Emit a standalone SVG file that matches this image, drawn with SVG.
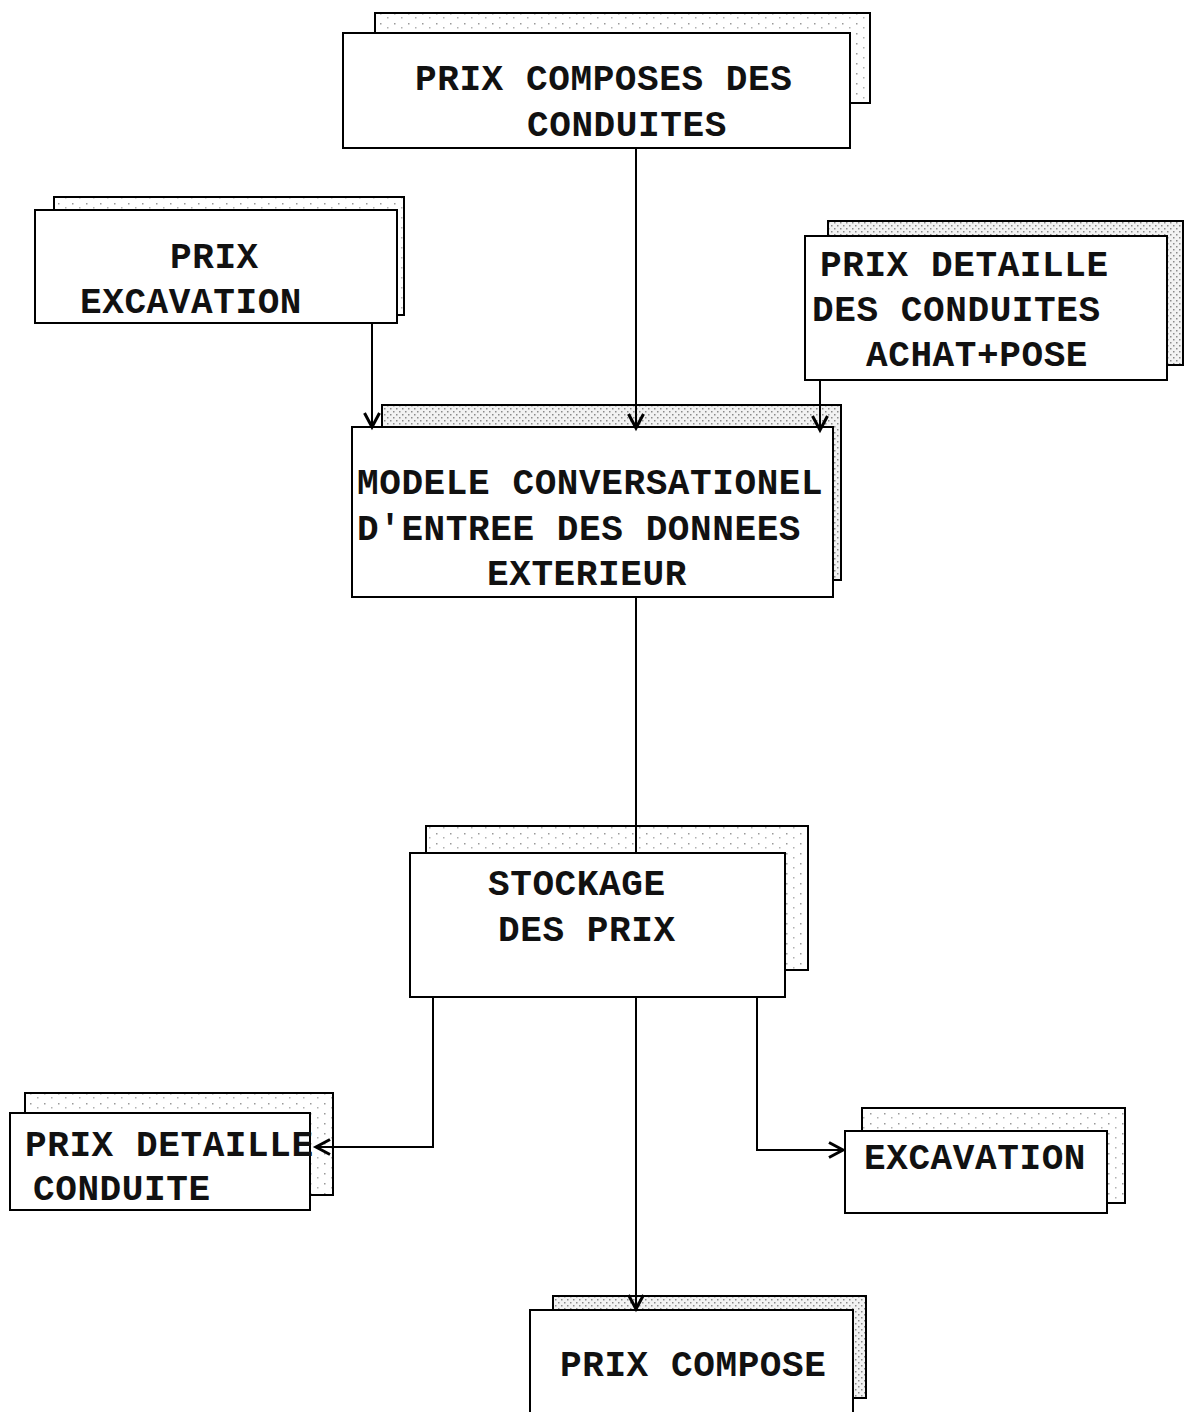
<svg xmlns="http://www.w3.org/2000/svg" width="1187" height="1412" viewBox="0 0 1187 1412">
  <style>
    .front { fill: #ffffff; stroke: #000000; stroke-width: 2; }
    .back { stroke: #000000; stroke-width: 2; }
    .dense { fill: url(#stippleDense); }
    .sparse { fill: url(#stippleSparse); }
    .label { font-family: "Liberation Mono", "Courier New", monospace; font-weight: bold; font-size: 36px; letter-spacing: 0.6px; fill: #111111; }
    .wire { fill: none; stroke: #000000; stroke-width: 2; }
  </style>
  <defs>
    <pattern id="stippleDense" width="6" height="6" patternUnits="userSpaceOnUse">
      <rect width="6" height="6" fill="#f2f2f2"/>
      <rect x="0" y="0" width="1.5" height="1.5" fill="#8a8a8a"/>
      <rect x="3" y="3" width="1.5" height="1.5" fill="#8a8a8a"/>
    </pattern>
    <pattern id="stippleSparse" width="14" height="10" patternUnits="userSpaceOnUse">
      <rect width="14" height="10" fill="#ffffff"/>
      <rect x="2" y="3" width="1.5" height="1.5" fill="#9a9a9a"/>
      <rect x="9" y="7" width="1.5" height="1.5" fill="#b0b0b0"/>
    </pattern>
    <marker id="arrow" markerUnits="userSpaceOnUse" markerWidth="20" markerHeight="20" refX="15" refY="9" orient="auto">
      <path d="M1,1.5 L15,9 L1,16.5" fill="none" stroke="#000000" stroke-width="3"/>
    </marker>
  </defs>

  <!-- stacked record boxes -->
  <g id="prix-composes-conduites">
    <rect class="back sparse" x="375" y="13" width="495" height="90"/>
    <rect class="front" x="343" y="33" width="507" height="115"/>
    <text class="label" x="415" y="90">PRIX COMPOSES DES</text>
    <text class="label" x="527" y="136">CONDUITES</text>
  </g>

  <g id="prix-excavation">
    <rect class="back sparse" x="54" y="197" width="350" height="118"/>
    <rect class="front" x="35" y="210" width="362" height="113"/>
    <text class="label" x="170" y="268">PRIX</text>
    <text class="label" x="80" y="313">EXCAVATION</text>
  </g>

  <g id="prix-detaille-conduites">
    <rect class="back dense" x="828" y="221" width="355" height="144"/>
    <rect class="front" x="805" y="236" width="362" height="144"/>
    <text class="label" x="820" y="276">PRIX DETAILLE</text>
    <text class="label" x="812" y="321">DES CONDUITES</text>
    <text class="label" x="866" y="366">ACHAT+POSE</text>
  </g>

  <g id="modele-conversationel">
    <rect class="back dense" x="382" y="405" width="459" height="175"/>
    <rect class="front" x="352" y="427" width="481" height="170"/>
    <text class="label" x="357" y="494">MODELE CONVERSATIONEL</text>
    <text class="label" x="357" y="540">D'ENTREE DES DONNEES</text>
    <text class="label" x="487" y="585">EXTERIEUR</text>
  </g>

  <g id="stockage-prix">
    <rect class="back sparse" x="426" y="826" width="382" height="144"/>
    <rect class="front" x="410" y="853" width="375" height="144"/>
    <text class="label" x="488" y="895">STOCKAGE</text>
    <text class="label" x="498" y="941">DES PRIX</text>
  </g>

  <g id="prix-detaille-conduite">
    <rect class="back sparse" x="25" y="1093" width="308" height="102"/>
    <rect class="front" x="10" y="1113" width="300" height="97"/>
    <text class="label" x="25" y="1156">PRIX DETAILLE</text>
    <text class="label" x="33" y="1200">CONDUITE</text>
  </g>

  <g id="excavation">
    <rect class="back sparse" x="862" y="1108" width="263" height="95"/>
    <rect class="front" x="845" y="1131" width="262" height="82"/>
    <text class="label" x="864" y="1169">EXCAVATION</text>
  </g>

  <g id="prix-compose">
    <rect class="back dense" x="553" y="1296" width="313" height="102"/>
    <rect class="front" x="530" y="1310" width="323" height="110"/>
    <text class="label" x="560" y="1376">PRIX COMPOSE</text>
  </g>

  <!-- connectors, drawn over the boxes -->
  <g id="connectors">
    <line class="wire" x1="636" y1="148" x2="636" y2="428" marker-end="url(#arrow)"/>
    <line class="wire" x1="372" y1="323" x2="372" y2="427" marker-end="url(#arrow)"/>
    <line class="wire" x1="820" y1="380" x2="820" y2="430" marker-end="url(#arrow)"/>
    <line class="wire" x1="636" y1="597" x2="636" y2="853"/>
    <line class="wire" x1="636" y1="997" x2="636" y2="1309" marker-end="url(#arrow)"/>
    <polyline class="wire" points="433,997 433,1147 316,1147" marker-end="url(#arrow)"/>
    <polyline class="wire" points="757,997 757,1150 843,1150" marker-end="url(#arrow)"/>
  </g>
</svg>
